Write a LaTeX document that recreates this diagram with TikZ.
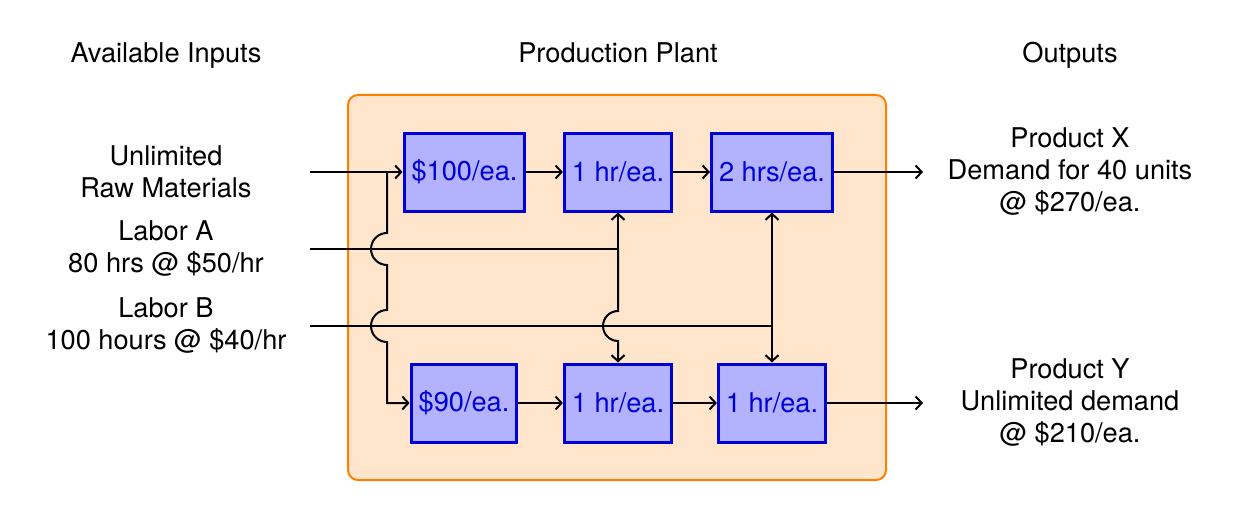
\documentclass[tikz,border=0pt]{standalone}
\usepackage{fontspec}
\setmainfont{TeX Gyre Heros}
\usetikzlibrary{arrows.meta}
\begin{document}
\begin{tikzpicture}[x=1pt,y=-1pt,
  every node/.style={font=\fontsize{27.2}{32}\selectfont},
  txt/.style={align=center},
  ttl/.style={anchor=base},
  proc/.style={draw=blue!85!black, line width=3pt, fill=blue!30, text=blue!85!black, minimum height=78pt, inner xsep=7.5pt},
  conn/.style={line width=2pt, -{Straight Barb[length=6pt,width=13pt,line width=2pt]}},
  wire/.style={line width=2pt}]
\useasboundingbox (0,0) rectangle (1246,508);
\node[draw=orange, fill=orange!20, line width=2pt, rounded corners=10pt,
      minimum width=538pt, minimum height=385pt, inner sep=0pt] (plant) at (617,287.5) {};
% titles
\node[ttl] (tin) at (166,63) {Available Inputs};
\node[ttl] (tpl) at (618,63) {Production Plant};
\node[ttl] (tout) at (1070,63) {Outputs};
% process boxes
\node[proc] (p1) at (464.5,172) {\$100/ea.};
\node[proc] (p2) at (618,172) {1 hr/ea.};
\node[proc] (p3) at (772,172) {2 hrs/ea.};
\node[proc] (q1) at (464,403) {\$90/ea.};
\node[proc] (q2) at (618,403) {1 hr/ea.};
\node[proc] (q3) at (772,403) {1 hr/ea.};
% inputs and outputs
\node[txt] (raw) at (166,172) {Unlimited\\Raw Materials};
\node[txt] (la) at (166,249) {Labor A\\80 hrs @ \$50/hr};
\node[txt] (lb) at (166,326) {Labor B\\100 hours @ \$40/hr};
\node[txt] (px) at (1070,172) {Product X\\Demand for 40 units\\@ \$270/ea.};
\node[txt] (py) at (1070,403) {Product Y\\Unlimited demand\\@ \$210/ea.};
% coordinates
\coordinate (rawS) at (310,172);
\coordinate (laS) at (310,249);
\coordinate (lbS) at (310,326);
\coordinate (split) at (387,172);
\coordinate (ja) at (618,249);
\coordinate (jb) at (772,326);
\coordinate (ox) at (923,172);
\coordinate (oy) at (923,403);
% connectors
\draw[wire] (rawS) -- (split);
\draw[conn] (split) -- (p1.west);
\draw[conn] (split) -- (387,233) arc[start angle=90,end angle=270,radius=16pt]
   -- (387,310) arc[start angle=90,end angle=270,radius=16pt] -- (387,403) -- (q1.west);
\draw[wire] (laS) -- (ja);
\draw[conn] (ja) -- (p2.south);
\draw[conn] (ja) -- (618,311) arc[start angle=90,end angle=270,radius=15pt] -- (q2.north);
\draw[wire] (lbS) -- (jb);
\draw[conn] (jb) -- (p3.south);
\draw[conn] (jb) -- (q3.north);
\draw[conn] (p1.east) -- (p2.west);
\draw[conn] (p2.east) -- (p3.west);
\draw[conn] (q1.east) -- (q2.west);
\draw[conn] (q2.east) -- (q3.west);
\draw[conn] (p3.east) -- (ox);
\draw[conn] (q3.east) -- (oy);
\end{tikzpicture}
\end{document}
